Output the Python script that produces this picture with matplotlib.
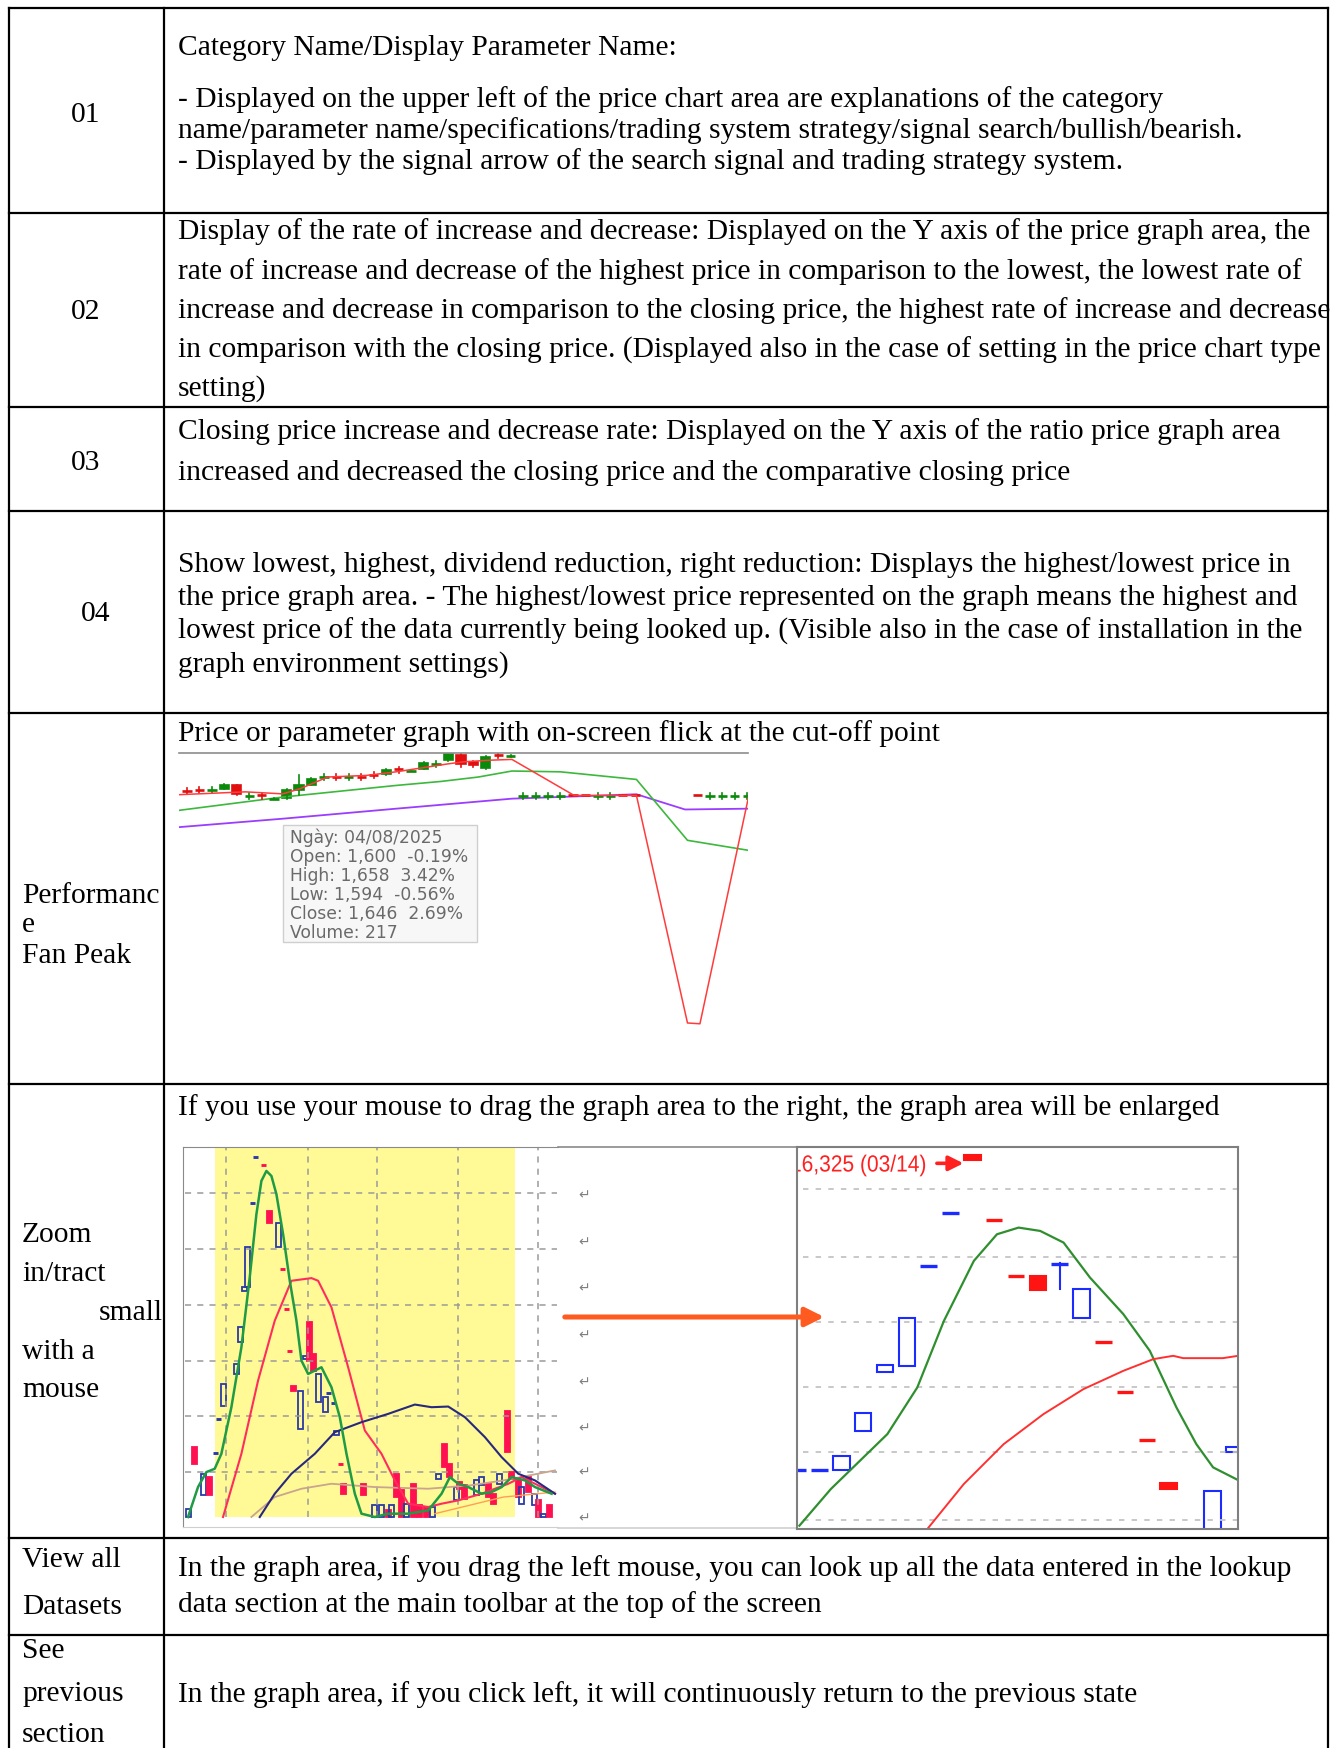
import matplotlib
matplotlib.use("Agg")
import matplotlib.pyplot as plt
from matplotlib.patches import Rectangle, PathPatch
from matplotlib.textpath import TextPath
from matplotlib.font_manager import FontProperties
from matplotlib.transforms import Affine2D

# ---------------- data ----------------
# table text (right column)
row01_text = ["Category Name/Display Parameter Name:",
              "- Displayed on the upper left of the price chart area are explanations of the category",
              "name/parameter name/specifications/trading system strategy/signal search/bullish/bearish.",
              "- Displayed by the signal arrow of the search signal and trading strategy system."]
row02_text = ["Display of the rate of increase and decrease: Displayed on the Y axis of the price graph area, the",
              "rate of increase and decrease of the highest price in comparison to the lowest, the lowest rate of",
              "increase and decrease in comparison to the closing price, the highest rate of increase and decrease",
              "in comparison with the closing price. (Displayed also in the case of setting in the price chart type",
              "setting)"]
row03_text = ["Closing price increase and decrease rate: Displayed on the Y axis of the ratio price graph area",
              "increased and decreased the closing price and the comparative closing price"]
row04_text = ["Show lowest, highest, dividend reduction, right reduction: Displays the highest/lowest price in",
              "the price graph area. - The highest/lowest price represented on the graph means the highest and",
              "lowest price of the data currently being looked up. (Visible also in the case of installation in the",
              "graph environment settings)"]
perf_text = ["Price or parameter graph with on-screen flick at the cut-off point"]
zoom_text = ["If you use your mouse to drag the graph area to the right, the graph area will be enlarged"]
view_text = ["In the graph area, if you drag the left mouse, you can look up all the data entered in the lookup",
             "data section at the main toolbar at the top of the screen"]
prev_text = ["In the graph area, if you click left, it will continuously return to the previous state"]

# tooltip of the first screenshot
tooltip_lines = ["Ngày: 04/08/2025", "Open: 1,600  -0.19%", "High: 1,658  3.42%",
                 "Low: 1,594  -0.56%", "Close: 1,646  2.69%", "Volume: 217"]

# screenshot 1 : candles (day, open, high, low, close)
perf_day = list(range(27)) + list(range(27, 37)) + list(range(41, 46))
perf_open = [1620, 1622, 1621, 1625, 1633, 1607, 1608, 1599, 1602, 1621, 1635, 1653, 1655, 1653,
             1655, 1659, 1661, 1673, 1670, 1675, 1686, 1696, 1710, 1692, 1677, 1709, 1706,
             1606, 1606, 1606, 1606, 1609, 1609, 1606, 1606, 1609, 1609,
             1609, 1606, 1606, 1606, 1606]
perf_close = [1619, 1621, 1622, 1635, 1612, 1608, 1607, 1600, 1621, 1633, 1648, 1654, 1654, 1654,
              1654, 1658, 1671, 1672, 1671, 1689, 1687, 1712, 1687, 1683, 1704, 1708, 1707,
              1607, 1607, 1607, 1607, 1608, 1608, 1607, 1607, 1608, 1608,
              1608, 1607, 1607, 1607, 1607]
perf_high = [1626, 1629, 1629, 1637, 1634, 1615, 1615, 1601, 1624, 1660, 1652, 1661, 1662, 1661,
             1662, 1666, 1673, 1680, 1672, 1691, 1694, 1714, 1712, 1693, 1706, 1715, 1708,
             1614, 1614, 1614, 1614, 1609, 1609, 1614, 1614, 1609, 1609,
             1609, 1614, 1614, 1614, 1614]
perf_low = [1612, 1614, 1614, 1623, 1610, 1600, 1600, 1598, 1600, 1608, 1633, 1647, 1647, 1647,
            1647, 1651, 1660, 1665, 1669, 1674, 1680, 1695, 1680, 1680, 1673, 1701, 1705,
            1600, 1600, 1600, 1600, 1608, 1608, 1600, 1600, 1608, 1608,
            1608, 1600, 1600, 1600, 1600]
perf_red_x = [-0.6, 4.7, 7.7, 9.1, 11.3, 14.4, 16.8, 21.0, 22.2, 24.3, 26.1, 31.1, 36.1, 40.2, 41.2, 45.1]
perf_red_y = [1610, 1617, 1612, 1625, 1654, 1658, 1667, 1687, 1692, 1696, 1698, 1608, 1608, 1040, 1038, 1604]
perf_green_x = [-0.6, 7.7, 16.8, 20.4, 23.4, 26.1, 30.0, 36.1, 40.2, 45.1]
perf_green_y = [1571, 1604, 1633, 1643, 1654, 1669, 1667, 1648, 1496, 1471]
perf_purple_x = [-0.6, 7.7, 16.8, 26.1, 36.1, 40.0, 45.1]
perf_purple_y = [1529, 1550, 1575, 1600, 1611, 1573, 1575]

# screenshot 2 (left, before zoom)
left_day = [0.6, 1.4, 2.5, 3.2, 3.9, 4.3, 4.8, 6.4, 6.9, 7.4, 7.7, 8.3, 8.7, 9.6, 10.4, 11.5, 11.9,
            12.4, 12.8, 13.3, 14.1, 14.7, 15.2, 15.6, 16.2, 17.1, 17.5, 18.1, 18.4, 18.9, 19.3, 21.6,
            23.0, 23.8, 24.6, 25.0, 25.6, 26.2, 26.8, 27.6, 28.4, 29.2, 29.9, 30.6, 31.4, 31.9, 32.8,
            33.2, 33.8, 35.2, 35.8, 36.6, 37.2, 38.0, 38.9, 39.4, 40.2, 40.6, 41.4, 42.2, 42.6, 43.2, 44.0]
left_open = [3000, 3420, 3130, 3240, 3382, 3592, 3670, 3860, 4050, 4360, 4380, 4888, 5162, 5118, 4840,
             4620, 4492, 4252, 3998, 3790, 3530, 3950, 4170, 3980, 3690, 3630, 3748, 3688, 3490, 3318,
             3200, 3200, 3000, 3000, 3040, 3000, 3260, 3160, 3000, 3200, 3070, 3060, 3000, 3230, 3440,
             3320, 3100, 3210, 3190, 3130, 3190, 3200, 3140, 3200, 3640, 3270, 3220, 3080, 3240, 3070,
             3100, 3000, 3070]
left_close = [3050, 3320, 3260, 3130, 3384, 3594, 3800, 3920, 4144, 4380, 4620, 4890, 5164, 5116, 4770,
              4770, 4490, 4250, 3996, 3760, 3760, 3970, 3940, 3880, 3860, 3720, 3750, 3690, 3520, 3316,
              3140, 3130, 3070, 3070, 3000, 3070, 3120, 3000, 3080, 3000, 3000, 3000, 3060, 3260, 3300,
              3240, 3180, 3170, 3110, 3220, 3240, 3120, 3080, 3260, 3390, 3230, 3120, 3180, 3150, 3140,
              3000, 3020, 3000]
left_green_x = [0.6, 1.8, 2.8, 3.8, 4.6, 5.8, 7.0, 8.0, 8.8, 9.4, 10.0, 10.6, 11.2, 12.0, 12.8, 13.6,
                14.2, 15.0, 15.8, 16.6, 17.8, 18.8, 19.6, 20.6, 21.4, 23.0, 24.6, 27.0, 29.4, 31.0,
                32.0, 33.0, 34.2, 35.8, 37.0, 38.2, 39.4, 41.0, 42.2, 44.2]
left_green_y = [3000, 3180, 3270, 3290, 3380, 3660, 4020, 4440, 4820, 5020, 5080, 5050, 4940, 4700,
                4420, 4180, 3940, 3860, 3880, 3900, 3780, 3600, 3380, 3140, 3020, 3000, 3020, 3020,
                3040, 3140, 3240, 3200, 3180, 3140, 3150, 3180, 3240, 3220, 3180, 3140]
left_pink_x = [4.8, 7.0, 9.0, 11.0, 13.0, 15.4, 16.2, 17.8, 19.8, 21.8, 23.8, 25.4, 27.0, 29.4, 31.0,
               33.0, 35.8, 39.0, 40.6, 42.2, 44.6]
left_pink_y = [3000, 3380, 3820, 4180, 4420, 4436, 4420, 4260, 3900, 3520, 3380, 3220, 3080, 3060,
               3080, 3100, 3140, 3200, 3240, 3200, 3140]
left_navy_x = [9.2, 11.0, 13.0, 15.8, 18.2, 21.4, 24.6, 27.8, 29.8, 31.8, 33.8, 36.2, 38.2, 40.2, 42.2, 44.6]
left_navy_y = [3000, 3140, 3260, 3380, 3510, 3570, 3620, 3676, 3660, 3664, 3600, 3480, 3360, 3260, 3220, 3140]
left_tan_x = [8.2, 11.0, 14.2, 17.8, 23.0, 29.4, 34.4, 38.4, 44.6]
left_tan_y = [3000, 3120, 3170, 3200, 3180, 3170, 3190, 3220, 3280]
left_orange_x = [30.2, 38.4, 44.6]
left_orange_y = [3020, 3120, 3150]
left_vgrid = [5.2, 15.0, 23.2, 33.0, 42.6]
left_hgrid = [3270, 3605, 3940, 4275, 4610, 4945]

# screenshot 3 (right, zoomed)
right_day = [0, 1, 2, 3, 4, 5, 6, 7, 8, 9, 10, 11, 12, 13, 14, 15, 16, 17, 19, 20]
right_open = [4384, 4384, 4384, 4616, 4970, 5010, 5608, 5928, 6276, 5886, 5552, 5550, 5624, 5300,
              5150, 4852, 4566, 4306, 4010, 4490]
right_close = [4386, 4386, 4470, 4724, 5016, 5300, 5610, 5930, 6244, 5884, 5550, 5466, 5626, 5474,
               5148, 4850, 4564, 4270, 4260, 4524]
right_low = [4384, 4384, 4384, 4616, 4970, 5010, 5608, 5928, 6244, 5884, 5550, 5466, 5470, 5300,
             5148, 4850, 4564, 4270, 4010, 4490]
right_green_x = [0.08, 1.52, 4.11, 5.48, 6.70, 8.07, 9.13, 10.12, 11.11, 12.18, 13.39, 14.92, 16.13,
                 17.35, 18.26, 19.03, 20.17]
right_green_y = [4050, 4270, 4600, 4880, 5280, 5640, 5800, 5840, 5820, 5750, 5540, 5320, 5100, 4760,
                 4540, 4400, 4324]
right_red_x = [5.94, 7.61, 9.44, 11.26, 13.09, 14.92, 16.29, 17.2, 17.66, 19.48, 20.17]
right_red_y = [4030, 4300, 4540, 4720, 4870, 4980, 5050, 5070, 5056, 5056, 5070]
right_hgrid = [4086, 4490, 4880, 5274, 5666, 6070]
right_high_label = "16,325 (03/14)"

# ---------------- figure ----------------
W, H = 1340, 1749
SERIF = "Liberation Serif"
fig = plt.figure(figsize=(W / 100, H / 100), dpi=100)
ax = fig.add_axes([0, 0, 1, 1])
ax.set_xlim(0, W)
ax.set_ylim(H, 0)
ax.axis("off")

# fit the body font to the printed width of one line
renderer = fig.canvas.get_renderer()
probe = ax.text(0, 0, row02_text[0], fontsize=20, family=SERIF)
FS = 20 * 1135 / probe.get_window_extent(renderer).width
probe.remove()

# table grid
row_lines = [9, 214, 408, 512, 714, 1085, 1539, 1636]
for y in row_lines:
    ax.plot([9, 1328], [y, y], color="black", lw=1.6, solid_capstyle="projecting")
for x in [9, 164, 1328]:
    ax.plot([x, x], [9, H], color="black", lw=1.6)


def put(lines, ys, x=178):
    for s, y in zip(lines, ys):
        ax.text(x, y, s, fontsize=FS, family=SERIF, va="center", ha="left")


put(row01_text, [48, 100, 131, 162])
put(row02_text, [232, 272, 311, 350, 389])
put(row03_text, [432, 473])
put(row04_text, [565, 598, 631, 665])
put(perf_text, [734])
put(zoom_text, [1108])
put(view_text, [1569, 1605])
put(prev_text, [1695])

# left column labels
for s, x, y in [("01", 86, 115), ("02", 86, 312), ("03", 86, 463), ("04", 96, 614)]:
    ax.text(x, y, s, fontsize=FS, family=SERIF, va="center", ha="center")
put(["Performanc", "e", "Fan Peak"], [896, 925, 956], x=22)
put(["Zoom", "in/tract"], [1235, 1274], x=22)
ax.text(163, 1313, "small", fontsize=FS, family=SERIF, va="center", ha="right")
put(["with a", "mouse"], [1352, 1390], x=22)
put(["View all", "Datasets"], [1560, 1607], x=22)
put(["See", "previous", "section"], [1651, 1694, 1735], x=22)


def inset(x0, y0, x1, y1):
    return fig.add_axes([x0 / W, 1 - y1 / H, (x1 - x0) / W, (y1 - y0) / H])


def candles(a, days, o, c, hi, lo, width, up, down, hollow, lw, tol):
    for d, op, cl, h, l in zip(days, o, c, hi, lo):
        col = up if cl >= op else down
        if h > max(op, cl) or l < min(op, cl):
            a.plot([d, d], [l, h], color=col, lw=lw)
        if abs(cl - op) <= tol:
            a.plot([d - width / 2, d + width / 2], [op, op], color=col, lw=lw * 1.6,
                   solid_capstyle="butt")
        else:
            fc = "none" if (hollow and cl >= op) else col
            a.add_patch(Rectangle((d - width / 2, min(op, cl)), width, abs(cl - op),
                                  facecolor=fc, edgecolor=col, lw=lw))


# --- screenshot 1 : performance fan peak ---
a1 = inset(179, 754, 748, 1040)
a1.set_xlim(-0.64, 45.06)
a1.set_ylim(1000, 1714)
a1.set_xticks([])
a1.set_yticks([])
for k in ["left", "right", "bottom"]:
    a1.spines[k].set_visible(False)
a1.spines["top"].set_color("#8c8c8c")
a1.spines["top"].set_linewidth(1.2)
a1.plot(perf_purple_x, perf_purple_y, color="#9b3cff", lw=1.3)
a1.plot(perf_green_x, perf_green_y, color="#3cb83c", lw=1.2)
candles(a1, perf_day, perf_open, perf_close, perf_high, perf_low, 0.75,
        "#0a8a0a", "#e01010", False, 1.2, 2)
a1.plot(perf_red_x, perf_red_y, color="#ff3b3b", lw=1.1)

# --- screenshot 2 : before zoom ---
a2 = inset(183, 1148, 558, 1528)
a2.set_xlim(0, 44.96)
a2.set_ylim(2940, 5224)
a2.set_xticks([])
a2.set_yticks([])
a2.spines["right"].set_visible(False)
a2.spines["left"].set_color("#8a8a8a")
a2.spines["top"].set_color("#8a8a8a")
a2.spines["bottom"].set_color("#cfcfcf")
a2.add_patch(Rectangle((3.8, 3000), 36.0, 2224, facecolor="#fffa96", edgecolor="none"))
for g in left_vgrid:
    a2.plot([g, g], [3000, 5224], color="#9a9a9a", lw=1.1, dashes=(4, 4))
for g in left_hgrid:
    a2.plot([0.2, 44.9], [g, g], color="#9a9a9a", lw=1.1, dashes=(4, 4))
a2.plot(left_tan_x, left_tan_y, color="#c9a48e", lw=1.3)
a2.plot(left_orange_x, left_orange_y, color="#ffa050", lw=1.0)
candles(a2, left_day, left_open, left_close, left_open, left_open, 0.6,
        "#2a3aa8", "#ff1050", True, 1.3, 5)
a2.plot(left_pink_x, left_pink_y, color="#ff2d5e", lw=1.5)
a2.plot(left_navy_x, left_navy_y, color="#27287e", lw=1.5)
a2.plot(left_green_x, left_green_y, color="#1f9a45", lw=1.8)

# --- screenshot 3 : after zoom ---
a3 = inset(797, 1148, 1238, 1530)
a3.set_xlim(-0.03, 20.17)
a3.set_ylim(4030, 6324)
a3.set_xticks([])
a3.set_yticks([])
for s in a3.spines.values():
    s.set_color("#7f7f7f")
    s.set_linewidth(1.5)
for g in right_hgrid:
    a3.plot([0.25, 20.17], [g, g], color="#c4c4c4", lw=1.3, dashes=(3, 4))
candles(a3, right_day, right_open, right_close,
        [max(o, c) for o, c in zip(right_open, right_close)], right_low,
        0.76, "#1c2cff", "#ff1414", True, 1.5, 3)
a3.plot(right_green_x, right_green_y, color="#2f8f2f", lw=1.6)
a3.plot(right_red_x, right_red_y, color="#ff3030", lw=1.4)
a3.annotate("", xy=(7.72, 6226), xytext=(6.25, 6226),
            arrowprops=dict(arrowstyle="-|>", color="#ff2020", lw=2.6, mutation_scale=22))

# middle strip of the screenshot
ax.plot([558, 797], [1148, 1148], color="#8a8a8a", lw=1.2)
ax.plot([558, 797], [1529, 1529], color="#cfcfcf", lw=1.2)
for y in [1195, 1242, 1288, 1335, 1382, 1428, 1472, 1518]:
    ax.text(584, y, "\u21b5", fontsize=10, color="#808080", ha="center", va="center",
            family="DejaVu Sans")

# overlay: tooltip, high label and the big arrow
top = fig.add_axes([0, 0, 1, 1])
top.set_xlim(0, W)
top.set_ylim(H, 0)
top.axis("off")
top.add_patch(Rectangle((283, 826), 194, 117, facecolor="#f7f7f7", edgecolor="#cfcfcf", lw=1))
for i, s in enumerate(tooltip_lines):
    top.text(290, 838 + 19 * i, s, fontsize=12.3, color="#6a6a6a", family="DejaVu Sans",
             va="center", ha="left")

# condensed red label of the highest price, clipped by the chart frame
tp = TextPath((0, 0), right_high_label, size=23.3, prop=FontProperties(family="Liberation Sans"))
label = PathPatch(tp, transform=Affine2D().scale(0.9, -1).translate(790, 1172.5) + top.transData,
                  facecolor="#ff2020", edgecolor="none")
top.add_patch(label)
label.set_clip_path(Rectangle((798, 1148), 440, 382, transform=top.transData))

top.annotate("", xy=(827, 1318), xytext=(562, 1318),
             arrowprops=dict(arrowstyle="-|>", color="#ff5a1f", lw=3.6, mutation_scale=28))

fig.savefig("out.png", dpi=100)
